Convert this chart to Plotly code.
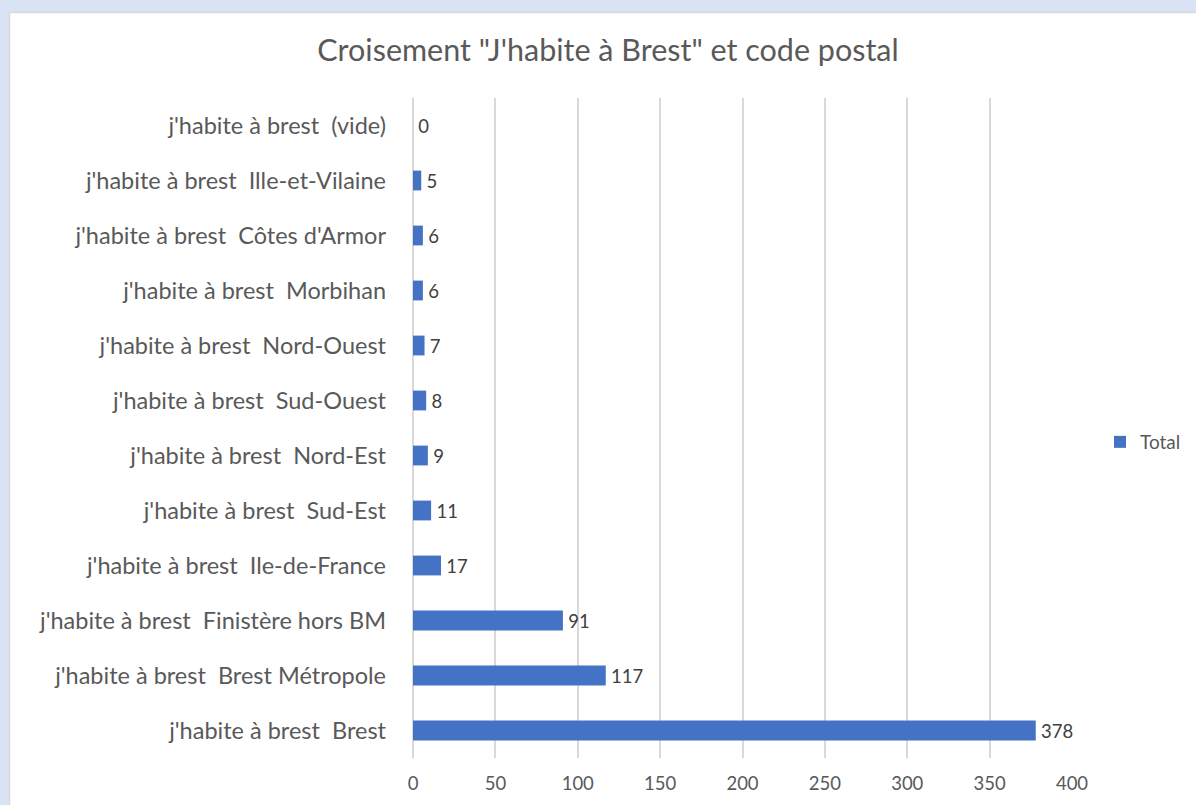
import plotly.graph_objects as go

categories = [
    "j'habite à brest  (vide)",
    "j'habite à brest  Ille-et-Vilaine",
    "j'habite à brest  Côtes d'Armor",
    "j'habite à brest  Morbihan",
    "j'habite à brest  Nord-Ouest",
    "j'habite à brest  Sud-Ouest",
    "j'habite à brest  Nord-Est",
    "j'habite à brest  Sud-Est",
    "j'habite à brest  Ile-de-France",
    "j'habite à brest  Finistère hors BM",
    "j'habite à brest  Brest Métropole",
    "j'habite à brest  Brest",
]
totals = [0, 5, 6, 6, 7, 8, 9, 11, 17, 91, 117, 378]
x_ticks = [0, 50, 100, 150, 200, 250, 300, 350, 400]
title_text = "Croisement \"J'habite à Brest\" et code postal"
series_name = "Total"

display_cats = [c.replace("  ", " \u00a0") for c in categories]

FONT = "Lato, 'Open Sans', sans-serif"
W, H = 1196, 805
L, R, T, B = 413, 124, 98, 47
pw, ph = W - L - R, H - T - B

def px_x(p):
    return (p - L) / pw

def px_y(p):
    return (H - B - p) / ph

fig = go.Figure()
fig.add_trace(go.Bar(
    x=totals, y=display_cats, orientation="h", name=series_name,
    marker=dict(color="#4472c4", line=dict(width=0)),
    text=["\u2009" + str(v) for v in totals], textposition="outside",
    textfont=dict(family=FONT, size=18.5, color="#404040"),
    constraintext="none",
    cliponaxis=False, showlegend=True,
))

fig.update_layout(
    width=W, height=H,
    margin=dict(l=L, r=R, t=T, b=B, autoexpand=False),
    paper_bgcolor="#dae3f3", plot_bgcolor="rgba(0,0,0,0)",
    font=dict(family=FONT, color="#595959"),
    bargap=0.64,
    title=dict(text=title_text, x=608 / W, xanchor="center", xref="container",
               y=1 - 50 / H, yanchor="middle", yref="container",
               font=dict(family=FONT, size=30.5, color="#595959")),
    xaxis=dict(range=[0, 400], tickvals=x_ticks, showgrid=True, gridcolor="#d9d9d9",
               gridwidth=1.5, zeroline=True, zerolinecolor="#d9d9d9", zerolinewidth=1.5,
               showline=False, ticks="", ticklabelstandoff=12,
               tickfont=dict(family=FONT, size=18.5, color="#595959")),
    yaxis=dict(autorange="reversed", showgrid=False, zeroline=False, showline=False,
               ticks="", ticklabelstandoff=26,
               tickfont=dict(family=FONT, size=23.5, color="#595959")),
    legend=dict(x=px_x(1100), xanchor="left", y=px_y(442), yanchor="middle",
                bgcolor="rgba(0,0,0,0)", font=dict(family=FONT, size=19, color="#595959")),
    shapes=[dict(type="rect", xref="paper", yref="paper",
                 x0=px_x(9.5), x1=px_x(1250), y0=px_y(12.5), y1=px_y(850),
                 fillcolor="white", line=dict(color="#d9d9d9", width=1.5), layer="below")],
)

fig.write_html("out.html", config={"displayModeBar": False},
               post_script="document.body.style.margin='0';document.body.style.background='#dae3f3';")
